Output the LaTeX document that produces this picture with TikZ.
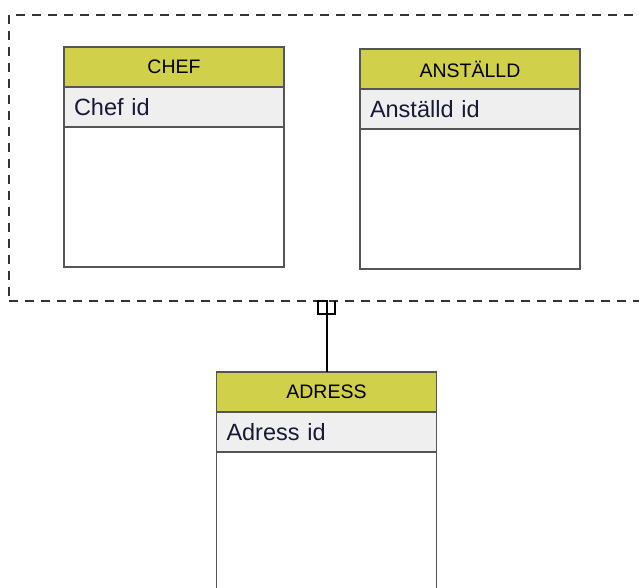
\documentclass[tikz,border=0pt]{standalone}
\usepackage{fontspec}
\setmainfont{Liberation Sans}
\usetikzlibrary{positioning}

\definecolor{headfill}{RGB}{209,208,74}
\definecolor{attrfill}{RGB}{239,239,239}
\definecolor{boxline}{RGB}{85,85,85}
\definecolor{attrtext}{RGB}{25,25,55}

\tikzset{
  head/.style={draw=boxline,fill=headfill,line width=1.8pt,outer sep=0pt,
    minimum width=220pt,minimum height=40pt,font=\fontsize{19.5}{21}\selectfont},
  attr/.style={draw=boxline,fill=attrfill,line width=1.8pt,outer sep=0pt,
    minimum width=220pt,minimum height=40pt,text width=200pt,inner xsep=10pt,
    align=left,text=attrtext,font=\fontsize{23.5}{25}\selectfont},
  body/.style={draw=boxline,fill=white,line width=1.8pt,outer sep=0pt,
    minimum width=220pt,minimum height=140pt},
  group/.style={draw=black!80,line width=1.6pt,dash pattern=on 9pt off 7pt,
    minimum width=641pt,minimum height=286pt,outer sep=0pt}
}

\begin{document}
\begin{tikzpicture}[x=1pt,y=-1pt]
\useasboundingbox (0,0) rectangle (639,588);
\clip (0,0) rectangle (639,588);
% grupp
\node[group] (grp) at (329.5,158) {};
% CHEF
\node[head] (chefh) at (174,67) {CHEF};
\node[attr,below=0pt of chefh] (chefa) {Chef id};
\node[body,below=0pt of chefa] (chefb) {};
% ANSTÄLLD
\node[head] (ansth) at (470,69) {ANSTÄLLD};
\node[attr,below=0pt of ansth] (ansta) {Anställd id};
\node[body,below=0pt of ansta] (anstb) {};
% ADRESS
\node[head] (adrh) at (326.5,392) {ADRESS};
\node[attr,below=0pt of adrh] (adra) {Adress id};
\node[body,below=0pt of adra,minimum height=160pt] (adrb) {};
% koppling
\coordinate (m) at (adrh.north |- grp.south);
\draw[line width=2pt] (m) -- (adrh.north);
\draw[line width=2pt] ([xshift=-9pt]m) rectangle ([yshift=-13pt]m);
\draw[line width=2pt] ([xshift=8pt]m) |- ([yshift=-13pt]m);
\end{tikzpicture}
\end{document}
